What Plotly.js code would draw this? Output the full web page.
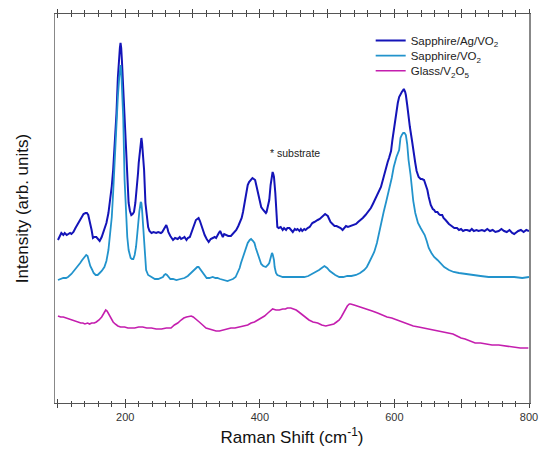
<!DOCTYPE html>
<html>
<head>
<meta charset="utf-8">
<script src="https://cdn.plot.ly/plotly-3.0.1.min.js"></script>
<style>html,body{margin:0;padding:0;background:#fff;}#chart{width:541px;height:456px;}</style>
</head>
<body>
<div id="chart"></div>
<script>
// Sapphire/Ag/VO2 (dark blue)
const agX = [100,103,105,108,110,113,115,118,120,123,126,130,133,135,138,141,143,145,147,150,152,154,157,159,162,165,167,170,172,175,177,180,182,185,187,189,190,192,193,194,195,197,198,200,202,204,205,207,209,211,213,215,217,219,220,222,223,224,225,227,228,230,232,234,236,239,242,246,249,253,255,257,259,261,263,264,267,271,274,278,281,283,286,288,291,293,296,298,300,302,305,307,309,311,313,315,318,321,324,327,330,333,335,337,339,341,343,345,347,350,353,357,360,363,365,368,370,373,375,378,380,382,384,386,389,391,393,395,397,400,402,405,407,409,410,412,414,416,417,419,420,421,423,424,425,426,428,431,434,436,439,441,444,447,449,452,454,456,459,461,463,466,468,471,474,476,478,481,483,486,489,492,494,497,499,501,503,505,508,511,514,518,520,523,525,528,531,535,539,543,546,550,553,557,561,565,568,572,576,580,584,587,590,592,595,597,600,603,605,607,609,611,613,614,616,617,619,621,623,626,628,631,633,636,639,641,644,647,649,651,654,657,659,661,664,666,668,671,673,676,679,681,683,686,689,693,696,699,702,705,708,712,715,718,722,725,730,734,738,742,746,750,755,759,763,767,771,775,778,780,784,788,792,796,800];
const agY = [163,167,170,168,170,168,169,170,169,171,175,180,184,186,189,190,190,188,183,173,165,166,166,164,162,166,170,175,180,190,200,217,233,265,290,325,340,355,360,355,343,315,290,260,233,210,200,192,188,189,191,200,213,230,240,255,263,265,260,245,233,200,186,176,172,170,171,170,171,170,171,173,176,178,174,171,167,163,165,164,166,164,165,166,163,165,166,170,175,178,183,184,185,182,178,173,168,164,161,164,165,166,165,168,170,172,168,166,169,168,167,167,169,172,173,177,180,185,191,203,213,218,221,223,225,224,223,217,210,202,196,193,191,190,191,196,203,218,223,231,229,226,210,196,185,176,175,176,173,175,173,175,175,172,171,174,173,174,172,174,172,174,173,175,176,178,180,181,182,183,184,186,187,189,188,187,184,181,179,177,177,176,175,173,175,177,176,177,178,179,181,183,185,188,191,195,199,205,210,216,226,235,241,245,252,263,278,292,300,306,309,311,313,314,311,308,298,286,276,263,252,240,232,226,224,224,223,218,213,206,198,194,193,191,191,189,188,188,185,183,180,179,178,176,175,175,173,174,172,173,173,172,174,172,173,172,173,172,174,172,173,171,172,174,172,171,173,170,169,170,172,173,171,173,172];

// Sapphire/VO2 (light blue)
const saX = [100,104,108,112,115,120,125,129,133,136,139,142,144,146,148,151,153,156,159,162,165,169,172,175,178,180,182,184,186,188,189,191,192,193,194,195,196,197,199,201,203,205,208,210,212,214,216,218,219,221,223,224,225,226,228,230,231,234,239,244,249,253,256,258,260,262,264,267,271,276,282,288,293,298,302,305,307,309,311,314,317,321,325,330,334,337,341,345,349,352,356,360,364,367,370,372,375,377,380,382,385,387,390,392,394,397,400,402,405,409,412,414,416,418,419,421,422,424,426,429,434,440,444,451,458,466,472,478,483,488,492,496,498,500,504,508,512,518,524,530,536,543,549,555,559,562,566,570,574,577,581,584,588,592,596,599,603,607,609,611,613,615,617,619,621,624,626,628,631,635,639,642,645,648,651,655,659,664,668,674,681,688,696,705,715,728,740,752,764,778,790,800];
const saY = [123,124,125,125,126,129,133,136,140,143,146,148,147,141,137,133,130,128,128,130,132,136,142,153,170,186,210,240,270,295,306,325,333,338,333,320,306,285,223,190,166,153,145,144,144,148,156,170,180,192,201,200,193,182,160,142,133,128,126,124,124,125,126,128,129,128,126,124,124,123,124,125,127,130,133,135,136,136,134,131,128,125,125,126,125,125,124,123,122,122,123,124,126,130,135,140,146,151,156,160,163,164,162,160,155,148,142,139,137,136,138,140,145,150,149,143,136,130,128,127,126,126,126,126,126,126,127,129,131,133,135,137,136,135,132,130,128,126,126,127,127,128,130,133,136,140,145,151,160,170,181,191,202,213,225,236,246,253,265,268,270,270,268,259,243,228,213,202,190,180,175,172,168,162,155,150,146,143,140,136,133,131,130,129,128,127,126,126,126,126,125,126];

// Glass/V2O5 (magenta)
const glX = [100,104,108,112,115,118,122,126,130,134,137,140,144,147,150,154,157,161,165,168,171,173,176,179,182,185,189,193,199,204,209,214,220,226,232,239,246,254,261,268,273,278,283,287,291,295,298,301,305,310,315,320,325,330,335,340,345,351,357,363,370,376,382,387,392,397,402,407,412,416,419,424,429,434,438,441,446,450,454,458,463,468,473,479,486,492,498,504,510,514,518,521,525,528,530,533,535,540,545,552,560,567,575,582,589,596,604,610,614,621,628,636,643,651,658,666,673,681,687,693,699,705,712,720,728,735,745,755,765,775,787,799];
const glY = [87,86,86,85,85,84,83,82,81,80,80,79,80,79,80,80,81,83,86,89,93,92,88,84,81,79,77,76,76,75,75,75,76,76,75,75,74,74,75,75,78,80,83,85,86,87,87,86,84,81,78,75,74,73,72,72,73,74,75,75,76,77,78,80,81,83,85,87,90,92,94,93,93,94,94,95,95,94,93,91,88,85,83,81,80,78,77,78,79,81,83,86,91,95,97,99,99,98,97,95,94,92,90,88,86,85,83,81,80,78,77,76,75,74,73,72,71,70,69,67,65,64,62,60,60,59,58,58,57,56,55,55];

const names = ['Sapphire/Ag/VO<sub>2</sub>', 'Sapphire/VO<sub>2</sub>', 'Glass/V<sub>2</sub>O<sub>5</sub>'];
const colors = ['#1414b8', '#2293cc', '#c41eae'];

const tickVals = [100,200,300,400,500,600,700,800];
const tickText = ['','200','','400','','600','','800'];

const traces = [
  {x: agX, y: agY, name: names[0], legend: 'legend', type: 'scatter', mode: 'lines', line: {color: colors[0], width: 2}},
  {x: saX, y: saY, name: names[1], legend: 'legend2', type: 'scatter', mode: 'lines', line: {color: colors[1], width: 1.8}},
  {x: glX, y: glY, name: names[2], legend: 'legend3', type: 'scatter', mode: 'lines', line: {color: colors[2], width: 1.6}},
  {x: [], y: [], xaxis: 'x2', showlegend: false, hoverinfo: 'skip', type: 'scatter', mode: 'lines'}
];

const FAM = 'Liberation Sans, Arial, sans-serif';
const axisFont = {family: FAM, size: 11, color: '#333'};
function leg(y) {
  return {x: 0.666, y: y, xanchor: 'left', yanchor: 'middle', bgcolor: 'rgba(0,0,0,0)',
          font: {family: FAM, size: 11.5, color: '#222'}, itemwidth: 30};
}
const layout = {
  width: 541, height: 456,
  margin: {l: 55, r: 10, t: 14, b: 53},
  paper_bgcolor: '#fff', plot_bgcolor: '#fff',
  font: {family: FAM},
  showlegend: true,
  legend: leg(0.932),
  legend2: leg(0.893),
  legend3: leg(0.854),
  xaxis: {range: [95.6, 800], tickmode: 'array', tickvals: tickVals, ticktext: tickText,
          ticks: 'outside', ticklen: 4, tickwidth: 1, tickcolor: '#444',
          minor: {dtick: 20, tick0: 100, ticks: 'outside', ticklen: 2.5, tickcolor: '#444', showgrid: false},
          showline: true, linecolor: '#555', linewidth: 1.2, mirror: 'allticks',
          showgrid: false, zeroline: false, tickfont: axisFont,
          title: {text: 'Raman Shift (cm<sup>-1</sup>)', standoff: 8, font: {family: FAM, size: 17, color: '#111'}},
          fixedrange: true},
  xaxis2: {overlaying: 'x', range: [95.6, 800], tickmode: 'array', tickvals: tickVals,
           showticklabels: false, ticks: 'inside', ticklen: 4, tickwidth: 1, tickcolor: '#444',
           minor: {dtick: 20, tick0: 100, ticks: 'inside', ticklen: 2.5, tickcolor: '#444', showgrid: false},
           showline: false, mirror: 'allticks', showgrid: false, zeroline: false, side: 'bottom'},
  yaxis: {range: [0, 389], showticklabels: false, ticks: '', showgrid: false, zeroline: false,
          showline: true, linecolor: '#888', linewidth: 1.5, mirror: true, automargin: true,
          title: {text: 'Intensity (arb. units)', standoff: 20, font: {family: FAM, size: 17, color: '#111'}},
          fixedrange: true},
  annotations: [
    {x: 412, y: 250, xref: 'x', yref: 'y', text: '* substrate', showarrow: false, xanchor: 'left', yanchor: 'middle',
     font: {family: FAM, size: 10.5, color: '#222'}}
  ]
};

Plotly.newPlot('chart', traces, layout, {displayModeBar: false, staticPlot: true});
</script>
</body>
</html>
